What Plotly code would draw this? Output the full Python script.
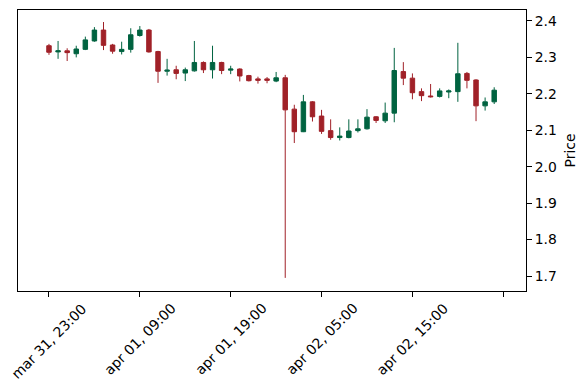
import plotly.graph_objects as go
import pandas as pd

# hourly candles
times = pd.date_range("2024-03-31 23:00", periods=50, freq="h")
opens = [2.332, 2.315, 2.318, 2.310, 2.322, 2.345, 2.375, 2.334, 2.316, 2.322,
         2.360, 2.375, 2.316, 2.262, 2.266, 2.257, 2.263, 2.286, 2.266, 2.286,
         2.265, 2.268, 2.250, 2.241, 2.241, 2.235, 2.244, 2.158, 2.096, 2.178,
         2.139, 2.099, 2.080, 2.080, 2.099, 2.104, 2.137, 2.126, 2.147, 2.261,
         2.243, 2.206, 2.194, 2.193, 2.205, 2.206, 2.256, 2.238, 2.167, 2.178]
highs = [2.337, 2.345, 2.325, 2.332, 2.357, 2.383, 2.397, 2.337, 2.343, 2.380,
         2.386, 2.378, 2.318, 2.296, 2.277, 2.272, 2.345, 2.289, 2.332, 2.288,
         2.277, 2.270, 2.252, 2.247, 2.246, 2.260, 2.252, 2.170, 2.197, 2.180,
         2.156, 2.130, 2.108, 2.130, 2.130, 2.158, 2.139, 2.176, 2.326, 2.287,
         2.256, 2.215, 2.227, 2.215, 2.212, 2.340, 2.260, 2.240, 2.190, 2.218]
lows = [2.307, 2.296, 2.290, 2.300, 2.320, 2.343, 2.320, 2.310, 2.308, 2.313,
        2.357, 2.313, 2.230, 2.250, 2.240, 2.235, 2.261, 2.257, 2.242, 2.254,
        2.254, 2.234, 2.234, 2.228, 2.229, 2.232, 1.695, 2.065, 2.095, 2.124,
        2.090, 2.074, 2.072, 2.078, 2.094, 2.102, 2.120, 2.120, 2.122, 2.224,
        2.185, 2.180, 2.190, 2.190, 2.188, 2.178, 2.215, 2.125, 2.154, 2.172]
closes = [2.314, 2.318, 2.313, 2.323, 2.348, 2.375, 2.333, 2.317, 2.322, 2.362,
          2.375, 2.315, 2.262, 2.265, 2.256, 2.266, 2.286, 2.266, 2.286, 2.264,
          2.268, 2.249, 2.236, 2.237, 2.237, 2.244, 2.156, 2.096, 2.178, 2.137,
          2.097, 2.080, 2.084, 2.098, 2.104, 2.136, 2.127, 2.147, 2.264, 2.243,
          2.203, 2.195, 2.192, 2.208, 2.208, 2.255, 2.237, 2.167, 2.178, 2.210]

UP = "#006340"
DOWN = "#a02128"
FONT = "DejaVu Sans"
FS = 13.9

idx = list(range(len(times)))
tick_idx = list(range(0, len(times) + 1, 10))
tick_labels = [times[i].strftime("%b %d, %H:%M").lower() if i < len(times) else ""
               for i in tick_idx]

fig = go.Figure(go.Candlestick(
    x=idx, open=opens, high=highs, low=lows, close=closes,
    increasing=dict(line=dict(color=UP, width=1), fillcolor=UP),
    decreasing=dict(line=dict(color=DOWN, width=1), fillcolor=DOWN),
    whiskerwidth=0,
))

annotations = []
for i, lab in zip(tick_idx, tick_labels):
    if lab:
        annotations.append(dict(
            x=i, xref="x", y=-0.022, yref="paper", text=lab, showarrow=False,
            textangle=-45, xanchor="center", yanchor="top",
            font=dict(family=FONT, size=FS, color="black")))

fig.update_layout(
    width=587, height=390,
    margin=dict(l=18, r=61, t=10, b=99, autoexpand=False),
    paper_bgcolor="white", plot_bgcolor="white",
    font=dict(family=FONT, size=FS, color="black"),
    showlegend=False,
    annotations=annotations,
    boxgap=0.3,
    xaxis=dict(
        range=[-3.41, 52.5], tickvals=tick_idx, showticklabels=False,
        ticks="outside", ticklen=5, tickcolor="black", tickwidth=1,
        showline=True, linecolor="black", linewidth=1, mirror=True,
        showgrid=False, zeroline=False, rangeslider=dict(visible=False),
        automargin=False,
    ),
    yaxis=dict(
        side="right", range=[1.659, 2.430], tick0=1.7, dtick=0.1, tickformat=".1f",
        ticks="outside", ticklen=5, tickcolor="black", tickwidth=1,
        showline=True, linecolor="black", linewidth=1, mirror=True,
        showgrid=False, zeroline=False, automargin=False,
        tickfont=dict(family=FONT, size=FS),
        title=dict(text="Price", standoff=9, font=dict(family=FONT, size=FS)),
    ),
)

fig.write_html("out.html", config={"displayModeBar": False},
               post_script="document.body.style.margin='0';document.body.style.padding='0';")
